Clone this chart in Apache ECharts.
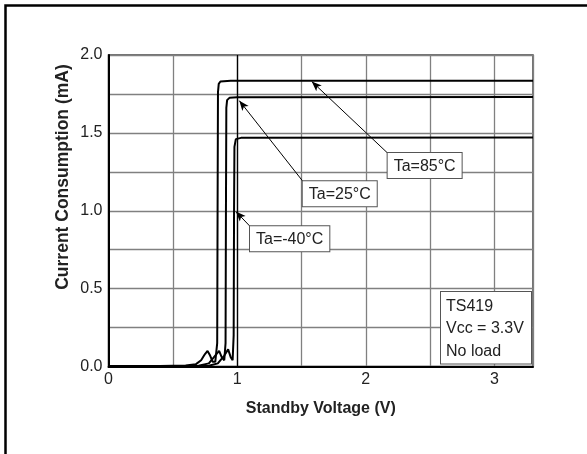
<!DOCTYPE html>
<html><head><meta charset="utf-8">
<script src="https://cdn.jsdelivr.net/npm/echarts@6/dist/echarts.min.js"></script>
<style>html,body{margin:0;padding:0;background:#fff}#c{width:587px;height:454px}</style>
</head><body><div id="c"></div>
<script>
const xTicks = [0, 1, 2, 3];
const yTicks = [0.0, 0.5, 1.0, 1.5, 2.0];
const seriesNames = ['Ta=85°C', 'Ta=25°C', 'Ta=-40°C'];
const curve85 = [[0,0.003],[0.4,0.003],[0.6,0.006],[0.68,0.015],[0.72,0.04],[0.75,0.08],[0.77,0.1],[0.79,0.07],[0.81,0.03],[0.83,0.03],[0.845,0.15],[0.848,1.0],[0.851,1.76],[0.857,1.815],[0.87,1.83],[0.95,1.835],[3.3,1.835]];
const curve25 = [[0,0.002],[0.5,0.002],[0.7,0.005],[0.78,0.02],[0.82,0.06],[0.86,0.1],[0.88,0.06],[0.9,0.04],[0.91,0.15],[0.913,1.0],[0.916,1.66],[0.922,1.71],[0.94,1.725],[1.0,1.728],[3.3,1.73]];
const curveM40 = [[0,0.002],[0.6,0.002],[0.78,0.005],[0.85,0.02],[0.9,0.07],[0.93,0.11],[0.95,0.06],[0.965,0.04],[0.973,0.2],[0.976,1.0],[0.979,1.41],[0.99,1.46],[1.03,1.468],[3.3,1.47]];
const labelTexts = ['Ta=85°C', 'Ta=25°C', 'Ta=-40°C'];
const arrowFrom = [[2.17, 1.37], [1.51, 1.19], [1.10, 0.90]];
const arrowTo = [[1.58, 1.83], [1.017, 1.707], [0.99, 0.995]];
const noteLines = ['TS419', 'Vcc = 3.3V', 'No load'];

const FONT = 'Liberation Sans, Arial, sans-serif';
const chart = echarts.init(document.getElementById('c'));
const curves = [curve85, curve25, curveM40];

const series = curves.map((d, i) => ({
  name: seriesNames[i], type: 'line', data: d, showSymbol: false, symbol: 'none',
  lineStyle: { color: '#000', width: 2 }, z: 3,
  markLine: i === 0 ? {
    silent: true, symbol: ['none', 'none'], label: { show: false },
    lineStyle: { color: '#000', width: 1.3, type: 'solid' }, z: 1,
    data: [{ xAxis: 1 }]
  } : undefined
}));
series.push({
  type: 'line', data: [], symbol: 'none', z: 4,
  markLine: {
    silent: true, label: { show: false }, symbolSize: [6, 10],
    lineStyle: { color: '#000', width: 1, type: 'solid' },
    data: arrowFrom.map((f, i) => [
      { coord: f, symbol: 'none' },
      { coord: arrowTo[i], symbol: 'arrow' }
    ])
  }
});

chart.setOption({
  animation: false,
  grid: { left: 108.5, right: 54, top: 55, bottom: 87.5, show: true, borderColor: '#444', borderWidth: 1.5 },
  xAxis: {
    type: 'value', min: 0, max: 3.3, interval: 1,
    name: 'Standby Voltage (V)', nameLocation: 'middle', nameGap: 34,
    nameTextStyle: { fontFamily: FONT, fontWeight: 'bold', fontSize: 16, color: '#222' },
    axisLine: { show: true, onZero: false, lineStyle: { color: '#000', width: 2 } },
    axisTick: { show: false },
    axisLabel: { fontFamily: FONT, fontSize: 16, color: '#222', margin: 5, showMaxLabel: false,
      formatter: v => xTicks.includes(v) ? String(v) : '' },
    splitLine: { show: true, lineStyle: { color: '#808080', width: 1.3 } },
    minorTick: { show: false, splitNumber: 2 },
    minorSplitLine: { show: true, lineStyle: { color: '#808080', width: 1.3 } }
  },
  yAxis: {
    type: 'value', min: 0, max: 2, interval: 0.5,
    axisLine: { show: true, onZero: false, lineStyle: { color: '#000', width: 2 } },
    axisTick: { show: false },
    axisLabel: { fontFamily: FONT, fontSize: 16, color: '#222', margin: 6,
      formatter: v => { const t = yTicks.find(y => Math.abs(y - v) < 1e-9); return t === undefined ? '' : t.toFixed(1); } },
    splitLine: { show: true, lineStyle: { color: '#808080', width: 1.3 } },
    minorTick: { show: false, splitNumber: 2 },
    minorSplitLine: { show: true, lineStyle: { color: '#808080', width: 1.3 } }
  },
  series: series
});

const gr = [
  { type: 'rect', shape: { x: 5.5, y: 5.5, width: 800, height: 800 }, style: { fill: 'none', stroke: '#000', lineWidth: 2.5 }, silent: true, z: 10 },
  { type: 'text', x: 63.5, y: 177, rotation: Math.PI / 2,
    style: { text: 'Current Consumption (mA)', font: 'bold 17.5px ' + FONT, fill: '#222', align: 'center', verticalAlign: 'middle' }, z: 10 },
  { type: 'text', x: 441, y: 292, z: 10,
    style: { text: noteLines.join('\n'), font: '16px ' + FONT, fill: '#222', lineHeight: 22.5,
      backgroundColor: '#fff', borderColor: '#555', borderWidth: 1, padding: [3, 8, 1, 5], width: 77 } }
];
labelTexts.forEach((t, i) => {
  const p = chart.convertToPixel({ gridIndex: 0 }, arrowFrom[i]);
  gr.push({ type: 'text', x: p[0], y: p[1], z: 10,
    style: { text: t, font: '16px ' + FONT, fill: '#222', backgroundColor: '#fff',
      borderColor: '#555', borderWidth: 1, padding: [5, 6, 4, 6] } });
});
chart.setOption({ graphic: gr });
</script></body></html>
